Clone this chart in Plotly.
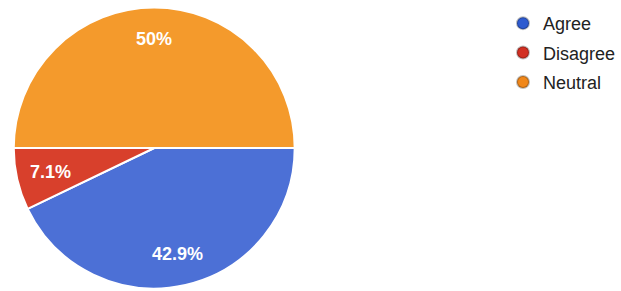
import math
import plotly.graph_objects as go

labels = ["Agree", "Disagree", "Neutral"]
counts = [6, 1, 7]
colors = ["#4C70D6", "#D8402C", "#F49A2C"]
legend_colors = ["#2E5BD0", "#D22F22", "#F0871A"]

W, H = 621, 291
cx_px = 157
r_px = 143

dom_x = [(cx_px - r_px) / W, (cx_px + r_px) / W]
dom_y = [0, 2 * r_px / H]

fig = go.Figure()
fig.add_trace(go.Pie(
    labels=labels, values=counts, sort=False, direction="clockwise", rotation=90,
    marker=dict(colors=colors, line=dict(color="white", width=2)),
    textinfo="none", hoverinfo="label+percent", showlegend=False,
    domain=dict(x=dom_x, y=dom_y),
))

# legend entries with circular markers
for lab, c in zip(labels, legend_colors):
    fig.add_trace(go.Scatter(x=[None], y=[None], mode="markers", name=lab, legendgroup=lab,
                             marker=dict(symbol="circle", size=16, color=c,
                                         line=dict(color="rgba(0,0,0,0.25)", width=1))))

# percentage labels at ~3/4 radius along each slice's mid-angle
total = sum(counts)
cum = 0
cy_paper = (dom_y[0] + dom_y[1]) / 2
for v in counts:
    mid = (cum + v / 2) / total
    cum += v
    theta = -2 * math.pi * mid
    x = cx_px / W + 0.76 * r_px * math.cos(theta) / W
    y = cy_paper + 0.76 * r_px * math.sin(theta) / H
    pct = 100 * v / total
    txt = f"{pct:.1f}%".replace(".0%", "%")
    fig.add_annotation(x=x, y=y, xref="paper", yref="paper", text=txt, showarrow=False,
                       xanchor="center", yanchor="middle",
                       font=dict(family="Liberation Sans, Arial", size=18, color="white",
                                 weight="bold"))

fig.update_layout(
    width=W, height=H, margin=dict(l=0, r=0, t=0, b=0),
    paper_bgcolor="white", plot_bgcolor="white",
    xaxis=dict(visible=False), yaxis=dict(visible=False),
    legend=dict(x=0.825, y=0.983, xanchor="left", yanchor="top",
                font=dict(family="Liberation Sans, Arial", size=18, color="#222222"),
                itemsizing="constant", tracegroupgap=3, bgcolor="rgba(0,0,0,0)"),
)
fig.write_html("out.html", config={"displayModeBar": False},
               post_script="document.body.style.margin='0';")
